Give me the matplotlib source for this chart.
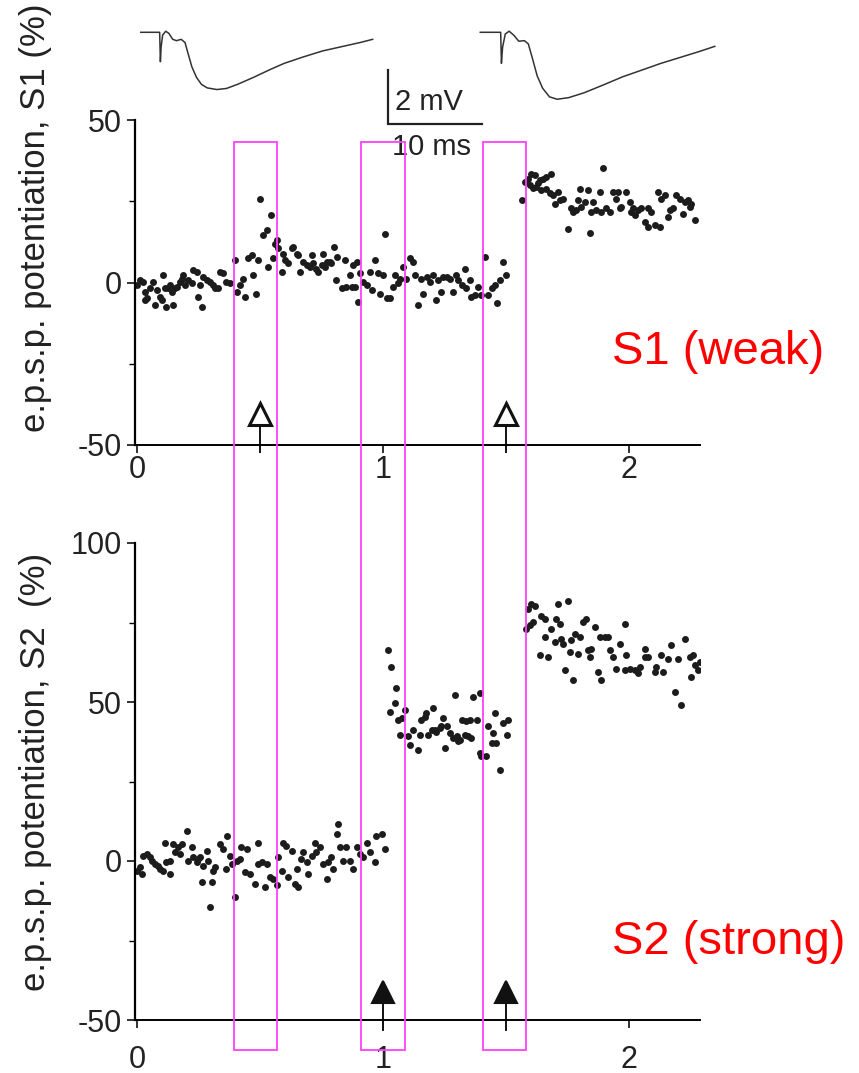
import numpy as np
import matplotlib.pyplot as plt
from matplotlib.patches import Rectangle
import matplotlib.transforms as mtransforms

plt.rcParams['font.family'] = ['Liberation Sans', 'DejaVu Sans']
plt.rcParams['axes.unicode_minus'] = False

# ------------------------
# e.p.s.p. traces (ms, mV relative to baseline)
# ------------------------
trace1_ms = [0, 1.64, 2.09, 2.17, 2.25, 2.41, 2.74, 3.07, 3.48, 3.89, 4.38, 4.79, 5.11, 5.52,
             6.01, 6.54, 7.16, 8.18, 9.20, 10.43, 12.07, 13.71, 15.34, 17.39, 19.43, 21.48,
             23.52, 24.75]
trace1_mv = [0, 0, 0, -1.09, -0.53, -0.10, 0.04, -0.04, -0.26, -0.31, -0.26, -0.38, -0.78, -1.28,
             -1.67, -1.93, -2.06, -2.12, -2.08, -1.92, -1.67, -1.40, -1.15, -0.91, -0.69, -0.53,
             -0.37, -0.26]
trace2_ms = [0, 1.84, 2.17, 2.25, 2.37, 2.66, 3.07, 3.60, 4.09, 4.70, 5.11, 5.52, 6.05, 6.63,
             7.36, 8.18, 9.41, 11.04, 13.09, 15.13, 17.18, 19.22, 21.27, 23.31, 24.95]
trace2_mv = [0, 0, 0, -1.15, -0.56, -0.06, 0.04, -0.12, -0.33, -0.31, -0.43, -0.93, -1.61, -2.07,
             -2.39, -2.48, -2.42, -2.24, -1.95, -1.65, -1.40, -1.15, -0.93, -0.71, -0.52]
trace2_start = 36.2  # ms

# ------------------------
# S1 (weak) - potentiation (%) vs time (h)
# ------------------------
s1_time = [0.0, 0.012, 0.026, 0.033, 0.039, 0.033, 0.053, 0.066, 0.073, 0.08, 0.093, 0.1, 0.107,
           0.114, 0.12, 0.127, 0.134, 0.141, 0.148, 0.154, 0.161, 0.175, 0.182, 0.188, 0.195,
           0.209, 0.222, 0.229, 0.243, 0.249, 0.256, 0.263, 0.27, 0.283, 0.297, 0.31, 0.317,
           0.331, 0.337, 0.351, 0.364, 0.378,
           0.398, 0.405, 0.419, 0.432, 0.439, 0.453, 0.466, 0.473, 0.486, 0.493, 0.5, 0.514,
           0.527, 0.534, 0.547, 0.554, 0.561, 0.568, 0.575, 0.588, 0.595, 0.602, 0.615, 0.629,
           0.636, 0.649, 0.656, 0.663, 0.676, 0.69, 0.703, 0.71, 0.717, 0.73, 0.737, 0.751,
           0.757, 0.764, 0.771, 0.785, 0.791, 0.801, 0.809, 0.814, 0.832, 0.845, 0.852, 0.866,
           0.873, 0.879, 0.886, 0.893, 0.9, 0.907, 0.92, 0.934, 0.947, 0.954, 0.968, 0.981,
           0.988, 1.001, 1.008, 1.015, 1.028, 1.042, 1.049, 1.062, 1.069,
           1.083, 1.096, 1.110, 1.123, 1.130, 1.144, 1.157, 1.164, 1.178, 1.191, 1.205, 1.218,
           1.225, 1.238, 1.245, 1.259, 1.272, 1.286, 1.299, 1.306, 1.32, 1.333, 1.34, 1.354,
           1.36, 1.374, 1.388, 1.401, 1.415, 1.428, 1.442, 1.455, 1.465, 1.476, 1.49, 1.5,
           1.564, 1.577, 1.591, 1.604, 1.618, 1.625, 1.638, 1.652, 1.665, 1.686, 1.665, 1.679,
           1.692, 1.699, 1.713, 1.72, 1.733, 1.753, 1.767, 1.774, 1.787, 1.801, 1.794, 1.808,
           1.821, 1.835, 1.841, 1.848, 1.855, 1.868, 1.882, 1.896, 1.889, 1.909, 1.923, 1.936,
           1.95, 1.957, 1.963, 1.97, 1.991, 2.004, 2.011, 2.018, 2.024, 2.038, 2.051, 2.065,
           2.079, 2.079, 2.092, 2.106, 2.119, 2.126, 2.133, 2.146, 2.16, 2.167, 2.18, 2.194,
           2.207, 2.221, 2.228, 2.241, 2.248, 2.255, 2.268,
           1.597, 1.61, 1.63, 1.645]
s1_pct = [-0.8, 0.7, 0.2, -2.9, -4.9, -5.4, -1.8, 0.2, -7.0, -2.4, -4.4, -5.4, 2.4,
          -1.8, -7.5, -1.8, -0.8, -2.9, -7.0, -1.8, -1.3, 0.2, 1.2, 2.3, -0.8,
          0.7, -0.3, 3.8, 3.3, -4.4, -0.8, -7.5, 1.7, 0.7, 0.2, -0.8, -1.8,
          -1.8, 3.3, 2.8, 0.2, -0.3,
          6.9, -2.9, -0.9, 1.2, -4.4, 7.4, 8.4, 2.3, -3.4, 6.9, 25.6, 14.6,
          16.1, 4.8, 20.7, 7.4, 12.0, 13.0, 10.5, 3.3, 8.9, 6.9, 5.9, 10.5,
          11.0, 8.9, 8.4, 3.3, 6.4, 5.3, 4.8, 8.4, 5.9, 4.3, 3.3, 5.3,
          8.9, 4.8, 6.4, 6.4, 5.9, 11.0, 0.7, 7.9, -1.8, 6.9, -1.3, 2.3,
          -1.3, 5.3, -1.3, 6.4, -5.9, 2.8, 0.2, -0.9, 3.3, -2.3, 6.9, 2.8,
          -3.4, 2.3, 14.8, -4.9, -4.9, -1.3, 2.3, -0.3, 1.2,
          4.8, 1.2, 7.4, 6.4, 2.3, -6.9, 1.2, -3.4, 1.7, 0.2, 2.3, -5.4,
          0.7, -2.9, 1.7, 1.7, 1.2, -2.9, 2.3, 0.7, -0.8, 4.3, -1.8, 0.7,
          -4.4, -3.9, -1.3, -3.9, 7.9, -3.9, -1.8, -0.8, -6.4, 0.7, 6.4, 2.3,
          25.3, 31.0, 32.0, 33.5, 33.0, 29.4, 31.5, 32.0, 32.5, 33.5, 28.9, 27.4,
          26.9, 24.3, 27.9, 25.3, 25.8, 16.6, 22.8, 21.7, 22.2, 28.9, 25.3, 23.3,
          24.8, 28.4, 15.1, 21.7, 24.8, 22.2, 27.9, 35.1, 21.7, 22.8, 21.7, 27.9,
          25.8, 27.9, 22.8, 23.3, 27.9, 24.8, 21.7, 22.8, 20.7, 22.2, 22.8, 18.7,
          22.8, 17.1, 21.7, 17.6, 27.9, 17.1, 25.8, 26.9, 20.2, 22.2, 22.8, 26.9,
          25.8, 21.2, 24.8, 25.3, 23.3, 24.3, 19.2,
          30.0, 29.0, 30.5, 28.5]

# ------------------------
# S2 (strong)
# ------------------------
s2_time = [0.0, 0.012, 0.019, 0.026, 0.039, 0.053, 0.06, 0.073, 0.087, 0.093, 0.107, 0.114,
           0.12, 0.134, 0.134, 0.148, 0.154, 0.168, 0.175, 0.182, 0.202, 0.209, 0.222, 0.229,
           0.243, 0.249, 0.256, 0.263, 0.27, 0.283, 0.29, 0.297, 0.304, 0.31, 0.317, 0.337,
           0.351, 0.364, 0.367, 0.378, 0.385, 0.398, 0.405, 0.419, 0.425, 0.439, 0.446, 0.459,
           0.48, 0.493, 0.493, 0.507, 0.52, 0.527, 0.541, 0.554, 0.568, 0.575, 0.588, 0.595,
           0.608, 0.615, 0.629, 0.642, 0.649, 0.656, 0.669, 0.676, 0.69, 0.697, 0.71, 0.724,
           0.73, 0.744, 0.757, 0.771, 0.778, 0.791, 0.798, 0.812, 0.818, 0.825, 0.839, 0.852,
           0.866, 0.879, 0.893, 0.907, 0.92, 0.934, 0.947, 0.968, 0.974, 0.995, 1.008,
           1.022, 1.035, 1.049, 1.055, 1.028, 1.062, 1.076, 1.069, 1.09, 1.103, 1.11, 1.123,
           1.144, 1.15, 1.157, 1.171, 1.177, 1.184, 1.198, 1.205, 1.211, 1.218, 1.232, 1.238,
           1.245, 1.252, 1.259, 1.272, 1.286, 1.293, 1.3, 1.306, 1.313, 1.32, 1.333, 1.34,
           1.347, 1.354, 1.36, 1.367, 1.381, 1.394, 1.394, 1.401, 1.421, 1.428, 1.442, 1.448,
           1.455, 1.462, 1.476, 1.489, 1.503, 1.51,
           1.584, 1.591, 1.598, 1.604, 1.611, 1.618, 1.638, 1.645, 1.659, 1.659, 1.672, 1.686,
           1.699, 1.706, 1.713, 1.72, 1.726, 1.733, 1.74, 1.754, 1.76, 1.767, 1.774, 1.78,
           1.794, 1.801, 1.814, 1.828, 1.835, 1.841, 1.848, 1.862, 1.875, 1.882, 1.889, 1.902,
           1.916, 1.923, 1.936, 1.95, 1.963, 1.984, 1.984, 1.99, 2.004, 2.024, 2.038, 2.045,
           2.065, 2.065, 2.079, 2.106, 2.112, 2.133, 2.14, 2.16, 2.173, 2.187, 2.201, 2.214,
           2.228, 2.248, 2.255, 2.262, 2.269, 2.282, 2.289]
s2_pct = [-3.0, -2.0, -4.1, 1.7, 2.2, 1.2, 0.1, -0.9, -1.5, -2.5, -3.0, 5.8,
          -0.4, -4.1, 0.1, 5.3, 2.7, 4.3, 2.2, 5.3, 9.5, 0.1, 4.3, 1.2,
          -0.4, 0.6, 1.2, -6.7, -1.5, 3.2, 0.1, -14.5, -6.7, -3.0, -2.0, 5.3,
          3.8, -2.5, 7.9, 1.7, -0.9, -11.4, 0.1, 0.6, 4.3, -3.5, 3.8, -4.1,
          -7.2, 5.8, -0.9, -0.4, -8.2, -0.9, -5.1, -5.6, -7.7, 1.2, -3.0, 5.8,
          4.8, -5.1, 3.2, -7.2, -2.5, -8.2, 0.6, 2.7, -0.4, -4.1, 1.7, 5.8,
          2.7, 4.3, -0.9, -5.6, -0.4, 1.2, -2.5, 8.4, 11.6, 4.3, 0.1, 4.3,
          0.1, -2.5, 4.3, 2.2, 1.2, 5.8, 2.7, -0.4, 7.9, 8.4, 3.8,
          66.3, 61.1, 49.6, 54.3, 47.0, 44.4, 44.9, 39.7, 47.5, 39.2, 36.6, 41.3,
          35.0, 39.7, 44.4, 45.4, 46.5, 39.7, 41.3, 48.0, 41.3, 40.7, 41.8, 42.3,
          44.9, 35.5, 42.3, 40.2, 38.6, 52.2, 39.2, 37.6, 38.1, 44.4, 39.7, 43.9,
          39.2, 44.4, 38.6, 51.6, 44.4, 52.7, 33.9, 32.9, 32.9, 42.3, 37.1, 40.2,
          46.5, 37.1, 28.7, 43.4, 39.7, 44.4,
          73.0, 79.3, 74.1, 80.8, 75.1, 80.3, 64.7, 77.2, 76.2, 70.4, 64.2, 73.0,
          68.9, 76.2, 80.8, 74.6, 69.9, 68.3, 60.0, 81.9, 65.7, 69.4, 56.9, 71.5,
          65.2, 70.4, 75.1, 76.2, 66.3, 64.2, 66.8, 73.6, 59.5, 70.4, 56.9, 70.4,
          70.4, 66.3, 64.2, 60.5, 68.3, 74.6, 60.0, 64.7, 60.5, 60.0, 59.0, 61.0,
          66.8, 64.2, 64.2, 59.5, 61.0, 64.7, 59.5, 63.6, 67.8, 53.3, 63.6, 49.1,
          69.9, 64.2, 57.9, 64.7, 61.6, 60.0, 62.6]

# tetanus times (h): open = weak S1, filled = strong S2
tet_s1 = [0.5, 1.5]
tet_s2 = [1.0, 1.5]
# highlighted windows (h)
windows = [(0.394, 0.569), (0.911, 1.089), (1.407, 1.581)]

W, H = 859, 1073
fig = plt.figure(figsize=(W / 100, H / 100), dpi=100)

def fx(px):
    return px / W

def fy(py):
    return 1 - py / H

ax1 = fig.add_axes([fx(135), fy(445), fx(700) - fx(135), fy(120) - fy(445)])
ax2 = fig.add_axes([fx(135), fy(1020), fx(700) - fx(135), fy(543) - fy(1020)])

for ax in (ax1, ax2):
    for s in ('top', 'right'):
        ax.spines[s].set_visible(False)
    ax.spines['left'].set_linewidth(1.6)
    ax.spines['bottom'].set_linewidth(1.4)
    ax.set_xlim(-0.008, 2.29)
    ax.set_xticks([0, 1, 2])
    ax.tick_params(axis='both', which='major', direction='out', length=6, width=1.3,
                   labelsize=22, colors='#222222')
    ax.tick_params(axis='both', which='minor', direction='out', length=4, width=1.0)

ax1.set_ylim(-50, 50)
ax1.set_yticks([-50, 0, 50])
ax1.set_yticks([-25, 25], minor=True)
ax1.tick_params(axis='x', pad=1)
ax1.plot(s1_time, s1_pct, 'o', ms=5, color='#1c1c1c', mew=0)

ax2.set_ylim(-50, 100)
ax2.set_yticks([-50, 0, 50, 100])
ax2.set_yticks([-25, 25, 75], minor=True)
ax2.tick_params(axis='x', pad=12)
ax2.plot(s2_time, s2_pct, 'o', ms=5, color='#1c1c1c', mew=0)

# tetanus arrows
for xa in tet_s1:
    ax1.plot([xa, xa], [-52, -44], color='#111111', lw=1.4, clip_on=False)
    ax1.plot(xa, -40.5, marker='^', ms=16, mfc='white', mec='#111111', mew=2.2,
             clip_on=False)
for xa in tet_s2:
    ax2.plot([xa, xa], [-53, -45], color='#111111', lw=1.4, clip_on=False)
    ax2.plot(xa, -41.3, marker='^', ms=16, mfc='#111111', mec='#111111', mew=1.5,
             clip_on=False)

fig.text(fx(36), fy(218), 'e.p.s.p. potentiation, S1 (%)', rotation=90,
         ha='center', va='center', fontsize=25, color='#222222')
fig.text(fx(36), fy(772), 'e.p.s.p. potentiation, S2  (%)', rotation=90,
         ha='center', va='center', fontsize=25, color='#222222')

fig.text(fx(612), fy(352), 'S1 (weak)', color='red', fontsize=34, va='center')
fig.text(fx(612), fy(942), 'S2 (strong)', color='red', fontsize=34, va='center')

# magenta windows spanning both panels
blend = mtransforms.blended_transform_factory(ax1.transData, fig.transFigure)
for x0, x1 in windows:
    fig.add_artist(Rectangle((x0, fy(1050)), x1 - x0, fy(142) - fy(1050),
                             transform=blend, fill=False, edgecolor='#ff40ff',
                             lw=1.3, clip_on=False))

# example e.p.s.p. traces with scale bar
tr = fig.add_axes([fx(140), fy(160), fx(740) - fx(140), fy(10) - fy(160)])
tr.set_xlim(0, 600 / 9.4)
tr.set_ylim(-(160 - 32.3) / 27, (32.3 - 10) / 27)
tr.axis('off')
tr.plot(trace1_ms, trace1_mv, color='#333333', lw=1.1)
tr.plot(np.array(trace2_ms) + trace2_start, trace2_mv, color='#333333', lw=1.1)
bar_x, bar_y = 26.4, -3.40
tr.plot([bar_x, bar_x, bar_x + 10], [bar_y + 2, bar_y, bar_y], color='#222222', lw=1.6,
        solid_joinstyle='miter')
tr.text(bar_x + 0.7, bar_y + 0.8, '2 mV', fontsize=21, va='center', ha='left',
        color='#222222')
tr.text(bar_x + 4.6, bar_y - 0.85, '10 ms', fontsize=21, va='center', ha='center',
        color='#222222', clip_on=False)

fig.savefig('out.png', dpi=100)
